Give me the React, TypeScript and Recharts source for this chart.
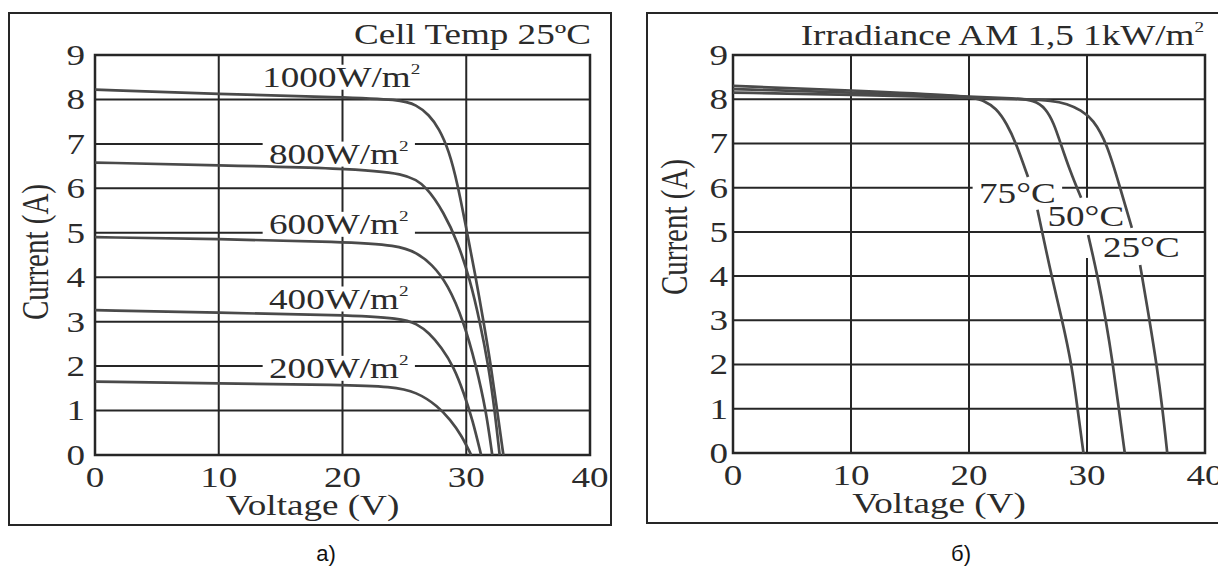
import { useLayoutEffect, useRef, useState } from 'react';
import {
  ComposedChart,
  LineChart,
  Line,
  Scatter,
  XAxis,
  YAxis,
  CartesianGrid,
  ReferenceArea,
  ReferenceLine,
} from 'recharts';

const SERIF = '"Liberation Serif", "Times New Roman", serif';
const SX = 1.28; // the scanned figure is stretched sideways, so is the text
const INK = '#262626';
const CURVE = '#4a4a4a';
const FS = 29;

const voltTicks = [0, 10, 20, 30, 40];
const currentTicks = [0, 1, 2, 3, 4, 5, 6, 7, 8, 9];

type Pt = { v: number; i: number | null };
type Lbl = { v: number; i: number; text: string; sup?: string };

// a) cell temp 25ºC, different irradiance
const irr1000: Pt[] = [
  { v: 0, i: 8.22 }, { v: 10, i: 8.12 }, { v: 20, i: 8.05 }, { v: 24.6, i: 8.0 },
  { v: 26, i: 7.88 }, { v: 27, i: 7.65 }, { v: 27.8, i: 7.35 }, { v: 28.6, i: 6.85 },
  { v: 29.3, i: 6.1 }, { v: 30.0, i: 5.1 }, { v: 30.7, i: 4.1 }, { v: 31.4, i: 3.0 },
  { v: 32.0, i: 2.0 }, { v: 32.5, i: 1.0 }, { v: 33.0, i: 0 },
];
const irr800: Pt[] = [
  { v: 0, i: 6.58 }, { v: 10, i: 6.52 }, { v: 20, i: 6.45 }, { v: 25.2, i: 6.35 },
  { v: 26.8, i: 6.04 }, { v: 28.2, i: 5.45 }, { v: 29.3, i: 4.8 }, { v: 30.3, i: 3.95 },
  { v: 31.1, i: 3.0 }, { v: 31.8, i: 2.0 }, { v: 32.3, i: 1.0 }, { v: 32.7, i: 0 },
];
const irr600: Pt[] = [
  { v: 0, i: 4.9 }, { v: 10, i: 4.86 }, { v: 20, i: 4.8 }, { v: 24.5, i: 4.72 },
  { v: 26, i: 4.55 }, { v: 27.2, i: 4.3 }, { v: 28.5, i: 3.85 }, { v: 29.8, i: 3.0 },
  { v: 30.8, i: 2.0 }, { v: 31.6, i: 1.0 }, { v: 32.1, i: 0 },
];
const irr400: Pt[] = [
  { v: 0, i: 3.26 }, { v: 10, i: 3.2 }, { v: 20, i: 3.15 }, { v: 24.8, i: 3.08 },
  { v: 26, i: 2.95 }, { v: 27, i: 2.75 }, { v: 28, i: 2.42 }, { v: 29, i: 1.98 },
  { v: 29.8, i: 1.4 }, { v: 30.5, i: 0.8 }, { v: 31.2, i: 0 },
];
const irr200: Pt[] = [
  { v: 0, i: 1.65 }, { v: 10, i: 1.61 }, { v: 20, i: 1.58 }, { v: 24, i: 1.54 },
  { v: 26, i: 1.42 }, { v: 27.7, i: 1.1 }, { v: 28.7, i: 0.8 }, { v: 29.6, i: 0.45 },
  { v: 30.4, i: 0 },
];

// б) irradiance 1 kW/m², different cell temperatures (curves break at the labels)
const temp75: Pt[] = [
  { v: 0, i: 8.3 }, { v: 10, i: 8.2 }, { v: 20, i: 8.08 }, { v: 21.2, i: 7.98 },
  { v: 22.3, i: 7.8 }, { v: 23.2, i: 7.45 }, { v: 24.0, i: 7.0 }, { v: 25.0, i: 6.24 },
  { v: 25.4, i: null },
  { v: 25.8, i: 5.5 }, { v: 26.4, i: 4.75 }, { v: 27.0, i: 4.0 }, { v: 27.9, i: 3.0 },
  { v: 28.7, i: 2.0 }, { v: 29.2, i: 1.0 }, { v: 29.7, i: 0 },
];
const temp50: Pt[] = [
  { v: 0, i: 8.23 }, { v: 10, i: 8.15 }, { v: 20, i: 8.06 }, { v: 24, i: 8.02 },
  { v: 25.5, i: 7.98 }, { v: 26.5, i: 7.8 }, { v: 27.2, i: 7.45 }, { v: 27.7, i: 7.05 },
  { v: 28.6, i: 6.35 }, { v: 29.5, i: 5.77 },
  { v: 29.8, i: null },
  { v: 30.1, i: 4.93 }, { v: 30.9, i: 4.0 }, { v: 31.6, i: 3.0 }, { v: 32.2, i: 2.0 },
  { v: 32.7, i: 1.0 }, { v: 33.2, i: 0 },
];
const temp25: Pt[] = [
  { v: 0, i: 8.15 }, { v: 10, i: 8.1 }, { v: 20, i: 8.04 }, { v: 25, i: 8.0 },
  { v: 27, i: 7.97 }, { v: 28.3, i: 7.9 }, { v: 29.5, i: 7.75 }, { v: 30.5, i: 7.55 },
  { v: 31.7, i: 7.0 }, { v: 32.8, i: 6.0 }, { v: 33.8, i: 5.09 },
  { v: 34.1, i: null },
  { v: 34.5, i: 4.25 }, { v: 35.3, i: 3.0 }, { v: 35.9, i: 2.0 }, { v: 36.4, i: 1.0 },
  { v: 36.8, i: 0 },
];

const irrLabels: Lbl[] = [
  { v: 19.9, i: 8.5, text: '1000W/m', sup: '2' },
  { v: 19.7, i: 6.77, text: '800W/m', sup: '2' },
  { v: 19.7, i: 5.19, text: '600W/m', sup: '2' },
  { v: 19.7, i: 3.51, text: '400W/m', sup: '2' },
  { v: 19.7, i: 1.95, text: '200W/m', sup: '2' },
];
const tempLabels: Lbl[] = [
  { v: 24.1, i: 5.87, text: '75°C' },
  { v: 29.9, i: 5.36, text: '50°C' },
  { v: 34.6, i: 4.65, text: '25°C' },
];

// vertical grid lines as [x, from, to]; the 30 V line in б) is cut by the labels
const gridA: number[][] = [[10, 0, 9], [20, 0, 9], [30, 0, 9]];
const gridB: number[][] = [[10, 0, 9], [20, 0, 9], [30, 0, 4.41], [30, 5.77, 9]];

const serifText = { fontFamily: SERIF, fontSize: FS, fill: '#2b2b2b' };

function XTick(props: any) {
  const { x, y, payload } = props;
  return (
    <g transform={`translate(${x},${y}) scale(${SX},1)`}>
      <text textAnchor="middle" dy={32} {...serifText}>{payload.value}</text>
    </g>
  );
}

function YTick(props: any) {
  const { x, y, payload, gap } = props;
  return (
    <g transform={`translate(${x - gap},${y}) scale(${SX},1)`}>
      <text textAnchor="end" dy="0.34em" {...serifText}>{payload.value}</text>
    </g>
  );
}

function XTitle(props: any) {
  const vb = props.viewBox || { x: 0, y: 0, width: 0 };
  return (
    <g transform={`translate(${vb.x + vb.width / 2 - 30},${vb.y + 60}) scale(${SX},1)`}>
      <text textAnchor="middle" {...serifText}>Voltage (V)</text>
    </g>
  );
}

function YTitle(props: any) {
  const vb = props.viewBox || { x: 0, y: 0, height: 0 };
  const cx = vb.x + props.shiftX;
  const cy = vb.y + vb.height / 2 + props.shiftY;
  return (
    <g transform={`translate(${cx},${cy}) scale(${SX},1) rotate(-90)`}>
      <text textAnchor="middle" dy="0.34em" {...serifText}>Current (A)</text>
    </g>
  );
}

// curve label with a white box that hides the grid behind it
function BoxLabel(props: any) {
  const { cx, cy, payload } = props;
  const ref = useRef<SVGTextElement>(null);
  const [bb, setBb] = useState<{ x: number; w: number } | null>(null);
  useLayoutEffect(() => {
    if (ref.current) {
      const b = ref.current.getBBox();
      setBb({ x: b.x, w: b.width });
    }
  }, [payload.text]);
  if (cx == null || cy == null) return null;
  return (
    <g transform={`translate(${cx},${cy}) scale(${SX},1)`}>
      {bb && <rect x={bb.x - 5} y={-12.5} width={bb.w + 10} height={25} fill="#fff" />}
      <text ref={ref} textAnchor="middle" dy="0.34em" {...serifText}>
        <tspan>{payload.text}</tspan>
        {payload.sup && <tspan fontSize={15} dy={-13}>{payload.sup}</tspan>}
      </text>
    </g>
  );
}

interface PanelProps {
  left: number;
  width: number;
  axisH: number;
  axisW: number;
  rightM: number;
  tickGap: number;
  labelShiftX: number;
  labelShiftY: number;
  series: Pt[][];
  labels: Lbl[];
  vgrid: number[][];
}

const H = 530;

function Panel(p: PanelProps) {
  const margin = { top: 55, right: p.rightM, left: 0, bottom: 0 };
  const box = { position: 'absolute' as const, left: p.left, top: 0 };
  return (
    <>
      <div style={box}>
        <ComposedChart width={p.width} height={H} margin={margin}>
          <CartesianGrid vertical={false} stroke={INK} strokeWidth={2} />
          {p.vgrid.map(([x, a, b], k) => (
            <ReferenceLine
              key={k}
              segment={[{ x, y: a }, { x, y: b }]}
              stroke={INK}
              strokeWidth={2}
            />
          ))}
          <ReferenceArea x1={0} x2={40} y1={0} y2={9} fill="none" fillOpacity={0} stroke={INK} strokeWidth={2.5} />
          <XAxis
            type="number"
            dataKey="v"
            domain={[0, 40]}
            ticks={voltTicks}
            interval={0}
            tick={<XTick />}
            tickLine={false}
            axisLine={false}
            tickSize={0}
            tickMargin={0}
            height={p.axisH}
            label={<XTitle />}
          />
          <YAxis
            type="number"
            dataKey="i"
            domain={[0, 9]}
            ticks={currentTicks}
            interval={0}
            tick={<YTick gap={p.tickGap} />}
            tickLine={false}
            axisLine={false}
            tickSize={0}
            tickMargin={0}
            width={p.axisW}
            label={<YTitle shiftX={p.labelShiftX} shiftY={p.labelShiftY} />}
          />
          <Scatter
            data={p.labels}
            dataKey="i"
            isAnimationActive={false}
            shape={(s: any) => <BoxLabel {...s} />}
          />
        </ComposedChart>
      </div>
      <div style={box}>
        <LineChart width={p.width} height={H} margin={margin}>
          <XAxis type="number" dataKey="v" domain={[0, 40]} ticks={voltTicks} tick={false} tickLine={false} axisLine={false} tickSize={0} height={p.axisH} />
          <YAxis type="number" dataKey="i" domain={[0, 9]} ticks={currentTicks} tick={false} tickLine={false} axisLine={false} tickSize={0} width={p.axisW} />
          {p.series.map((d, k) => (
            <Line
              key={k}
              data={d}
              dataKey="i"
              type="basis"
              stroke={CURVE}
              strokeWidth={2.7}
              dot={false}
              connectNulls={false}
              isAnimationActive={false}
            />
          ))}
        </LineChart>
      </div>
    </>
  );
}

export default function App() {
  return (
    <div style={{ position: 'absolute', left: 0, top: 0, width: 1218, height: 566, overflow: 'hidden', background: '#fff' }}>
      <svg width={1218} height={566} style={{ position: 'absolute', left: 0, top: 0 }}>
        <rect x={9} y={13} width={602} height={512} fill="none" stroke={INK} strokeWidth={2} />
        <path d="M1222 13 H647 V523 H1222" fill="none" stroke={INK} strokeWidth={2} />
        <g transform={`translate(591,44) scale(${SX},1)`}>
          <text textAnchor="end" {...serifText}>Cell Temp 25ºC</text>
        </g>
        <g transform={`translate(1204,45) scale(${SX},1)`}>
          <text textAnchor="end" {...serifText}>
            <tspan>Irradiance AM 1,5 1kW/m</tspan>
            <tspan fontSize={15} dy={-13}>2</tspan>
          </text>
        </g>
        <text x={326} y={561} textAnchor="middle" fontFamily='"Liberation Sans", Arial, sans-serif' fontSize={22} fill="#111">a)</text>
        <text x={961} y={561} textAnchor="middle" fontFamily='"Liberation Sans", Arial, sans-serif' fontSize={22} fill="#111">б)</text>
      </svg>
      <Panel
        left={0}
        width={620}
        axisH={75}
        axisW={95}
        rightM={30}
        tickGap={10}
        labelShiftX={35}
        labelShiftY={-3}
        series={[irr1000, irr800, irr600, irr400, irr200]}
        labels={irrLabels}
        vgrid={gridA}
      />
      <Panel
        left={620}
        width={598}
        axisH={77}
        axisW={113}
        rightM={13}
        tickGap={5}
        labelShiftX={54}
        labelShiftY={-27}
        series={[temp75, temp50, temp25]}
        labels={tempLabels}
        vgrid={gridB}
      />
    </div>
  );
}
